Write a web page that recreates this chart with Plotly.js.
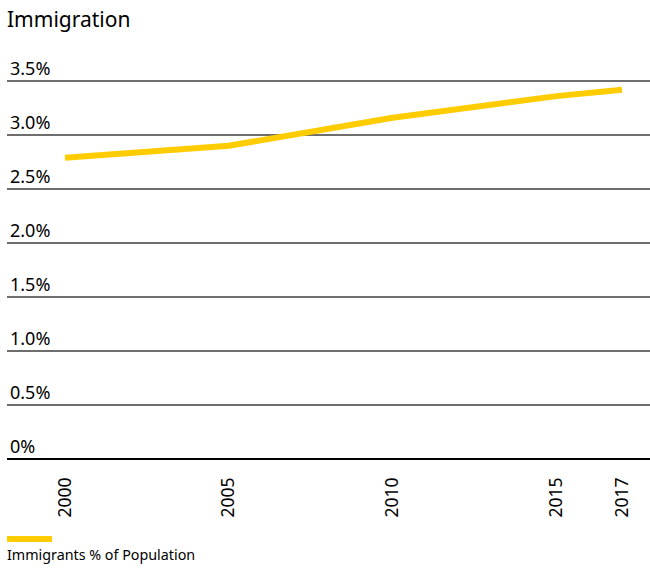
<!DOCTYPE html>
<html>
<head>
<meta charset="utf-8">
<script src="https://cdn.plot.ly/plotly-3.0.1.min.js"></script>
<style>html,body{margin:0;padding:0;background:#fff;}#chart{width:650px;height:568px;}</style>
</head>
<body>
<div id="chart"></div>
<script>
var years = [2000, 2005, 2010, 2015, 2017];
var immigrantsPct = [2.79, 2.90, 3.16, 3.36, 3.42];
var yTickVals = [0, 0.5, 1.0, 1.5, 2.0, 2.5, 3.0, 3.5];
var yTickText = ['0%', '0.5%', '1.0%', '1.5%', '2.0%', '2.5%', '3.0%', '3.5%'];
var seriesName = 'Immigrants % of Population';
var chartTitle = 'Immigration';

var FONT = 'Noto Sans, Open Sans, sans-serif';
var YELLOW = '#FFCC00';
var PH = 404; // plot height in px

var trace = {
  x: years, y: immigrantsPct, type: 'scatter', mode: 'lines', name: seriesName,
  line: {color: YELLOW, width: 6}, showlegend: false, hoverinfo: 'skip'
};

var layout = {
  width: 650, height: 568,
  margin: {l: 7, r: 0, t: 55, b: 109},
  paper_bgcolor: '#fff', plot_bgcolor: '#fff',
  font: {family: FONT, color: '#000'},
  title: {text: chartTitle, x: 0, xref: 'paper', xanchor: 'left', y: 1, yref: 'container', yanchor: 'top', pad: {t: 12, l: 0},
          font: {family: FONT, size: 21, color: '#000'}},
  xaxis: {
    range: [1998.23, 2017.855], tickvals: years, ticktext: years.map(String),
    tickangle: -90, showgrid: false, zeroline: false, showline: false,
    ticks: '', ticklabelstandoff: 14, tickfont: {family: FONT, size: 17.5, color: '#000'},
    fixedrange: true
  },
  yaxis: {
    range: [0, 3.7407], tickvals: yTickVals, ticktext: yTickText,
    showgrid: true, gridcolor: '#6e6e6e', gridwidth: 1.6,
    zeroline: true, zerolinecolor: '#000', zerolinewidth: 2.5,
    showline: false, ticks: '',
    ticklabelposition: 'inside top', ticklabelstandoff: 0,
    tickfont: {family: FONT, size: 18, color: '#000'},
    fixedrange: true
  },
  shapes: [{type: 'line', xref: 'paper', yref: 'paper', x0: 0, x1: 45 / 643, y0: -80 / PH, y1: -80 / PH,
            line: {color: YELLOW, width: 6}}],
  annotations: [{text: seriesName, xref: 'paper', yref: 'paper', x: 0, y: -84 / PH, xanchor: 'left', yanchor: 'top',
                 xshift: -2, showarrow: false, font: {family: FONT, size: 14.3, color: '#000'}}]
};

Plotly.newPlot('chart', [trace], layout, {displayModeBar: false, staticPlot: true});
</script>
</body>
</html>
